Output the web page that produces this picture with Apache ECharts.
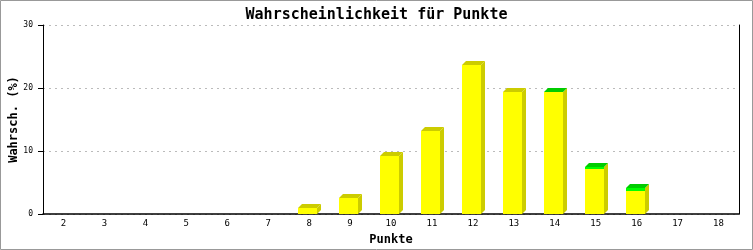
<!DOCTYPE html>
<html><head><meta charset="utf-8">
<script src="https://cdn.jsdelivr.net/npm/echarts@6/dist/echarts.min.js"></script>
<style>html,body{margin:0;padding:0;background:#fff}#c{width:753px;height:250px}</style>
</head><body><div id="c"></div>
<script>
const categories = ['2','3','4','5','6','7','8','9','10','11','12','13','14','15','16','17','18'];
const yellowValues = [0,0,0,0,0,0,1.0,2.5,9.2,13.2,23.6,19.4,19.3,7.2,3.7,0,0];
const greenValues  = [0,0,0,0,0,0,0,0,0,0,0,0,0.1,0.3,0.5,0,0];
const yTicks = [0,10,20,30];

const data = categories.map((c,i)=>[i, yellowValues[i], greenValues[i]]);
const MONO = '"DejaVu Sans Mono", monospace';
const chart = echarts.init(document.getElementById('c'), null, {renderer:'canvas'});

function renderItem(params, api){
  const i = api.value(0), y = api.value(1), g = api.value(2);
  if (y + g <= 0) return null;
  const base = api.coord([i, 0]);
  const cx = base[0];
  const x0 = Math.round(cx - 11), w = 19, d = 4;
  const x1 = x0 + w;
  const yb = Math.round(base[1]);
  const yY = Math.round(api.coord([i, y])[1]);
  const yT = Math.round(api.coord([i, y + g])[1]);
  const children = [];
  children.push({type:'polygon', shape:{points:[[x1,yT],[x1+d,yT-d],[x1+d,yb-d],[x1,yb]]}, style:{fill:'#cccc00'}});
  children.push({type:'rect', shape:{x:x0,y:yY,width:w,height:yb-yY}, style:{fill:'#ffff00'}});
  if (g > 0) {
    children.push({type:'rect', shape:{x:x0,y:yT,width:w,height:Math.max(yY-yT,0)}, style:{fill:'#00ff00'}});
  }
  children.push({type:'polygon', shape:{points:[[x0,yT],[x0+d,yT-d],[x1+d,yT-d],[x1,yT]]}, style:{fill: g>0 ? '#00cc00' : '#cccc00'}});
  return {type:'group', children};
}

chart.setOption({
  animation:false,
  backgroundColor:'#ffffff',
  title:{text:'Wahrscheinlichkeit für Punkte', left:'center', top:3,
    textStyle:{fontFamily:MONO, fontSize:15, fontWeight:'bold', color:'#000'}},
  grid:{left:43, right:14, top:25, bottom:36, containLabel:false, outerBoundsMode:'none'},
  graphic:[{type:'rect', shape:{x:0.5,y:0.5,width:752,height:249}, style:{fill:'none', stroke:'#999', lineWidth:1}, silent:true, z:100}],
  xAxis:{type:'category', data:categories, boundaryGap:true,
    name:'Punkte', nameLocation:'middle', nameGap:20, nameMoveOverlap:false,
    nameTextStyle:{fontFamily:MONO, fontSize:12, fontWeight:'bold', color:'#000'},
    axisLine:{lineStyle:{color:'#000', width:1.5}}, axisTick:{show:false},
    axisLabel:{fontFamily:MONO, fontSize:9, color:'#000', margin:5}},
  yAxis:[{type:'value', min:0, max:30, interval:10,
    name:'Wahrsch. (%)', nameLocation:'middle', nameGap:23, nameMoveOverlap:false,
    nameTextStyle:{fontFamily:MONO, fontSize:12, fontWeight:'bold', color:'#000'},
    axisLine:{show:true, lineStyle:{color:'#000'}}, axisTick:{show:true, length:5, lineStyle:{color:'#000'}},
    axisLabel:{fontFamily:MONO, fontSize:8, color:'#000', margin:10, formatter:v=>yTicks.includes(v)?String(v):''},
    splitLine:{show:true, lineStyle:{color:'#bbb', type:[2,4]}}},
   {type:'value', min:0, max:30, interval:10, position:'right',
    axisLine:{show:true, lineStyle:{color:'#000'}}, axisTick:{show:false}, axisLabel:{show:false}, splitLine:{show:false}}],
  series:[{type:'custom', renderItem, data, encode:{x:0, y:[1,2]}, clip:false}]
});
</script></body></html>
